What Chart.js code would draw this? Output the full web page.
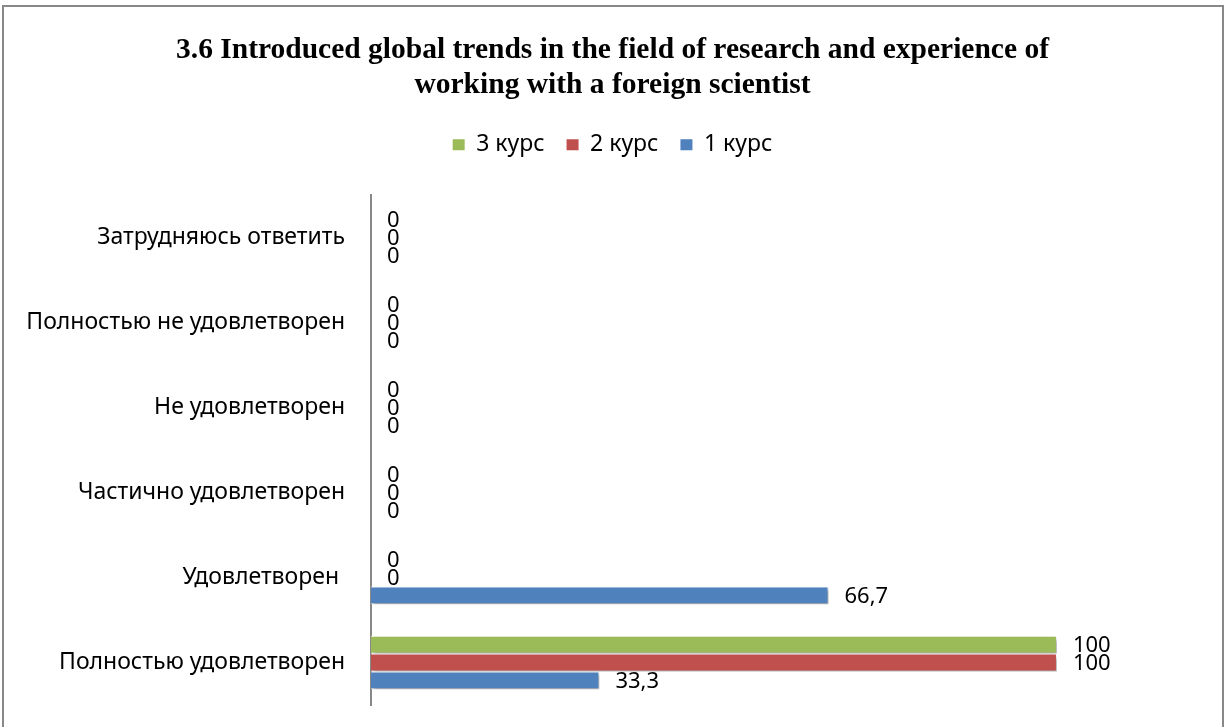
<!DOCTYPE html>
<html>
<head>
<meta charset="utf-8">
<script src="https://cdn.jsdelivr.net/npm/chart.js@4.4.1/dist/chart.umd.min.js"></script>
<style>
  html, body { margin: 0; padding: 0; background: #fff; }
  #wrap { width: 1225px; height: 727px; position: relative; }
</style>
</head>
<body>
<div id="wrap"><canvas id="chart"></canvas></div>
<script>
// ===== DATA =====
const categories = [
  'Затрудняюсь ответить',
  'Полностью не удовлетворен',
  'Не удовлетворен',
  'Частично удовлетворен',
  'Удовлетворен ',
  'Полностью удовлетворен'
];
const kurs3 = [0, 0, 0, 0, 0, 100];
const kurs2 = [0, 0, 0, 0, 0, 100];
const kurs1 = [0, 0, 0, 0, 66.7, 33.3];
const seriesNames = ['3 курс', '2 курс', '1 курс'];
const titleLines = [
  '3.6 Introduced global trends in the field of research and experience of',
  'working with a foreign scientist'
];

const LABEL_FONT = '"Noto Sans", "Open Sans", sans-serif';

// frame + white background
const framePlugin = {
  id: 'frame',
  beforeDraw(chart) {
    const ctx = chart.ctx;
    ctx.save();
    ctx.fillStyle = '#fff';
    ctx.fillRect(0, 0, chart.width, chart.height);
    ctx.strokeStyle = '#888';
    ctx.lineWidth = 2;
    ctx.strokeRect(3, 6, 1220, 730);
    ctx.restore();
  }
};

// extra gap under the legend
const legendGap = {
  id: 'legendGap',
  beforeLayout(chart) {
    const lg = chart.legend;
    if (lg && !lg._gapPatched) {
      const fit = lg.fit;
      lg.fit = function () {
        fit.call(this);
        this.height += 29;
      };
      lg._gapPatched = true;
    }
  }
};

// bar shadow + value labels
const barLabels = {
  id: 'barLabels',
  beforeDatasetsDraw(chart) {
    const ctx = chart.ctx;
    ctx.save();
    ctx.shadowColor = 'rgba(0,0,0,0.35)';
    ctx.shadowBlur = 4;
    ctx.shadowOffsetX = 2;
    ctx.shadowOffsetY = 3;
  },
  afterDatasetsDraw(chart) {
    const ctx = chart.ctx;
    ctx.restore();
    ctx.save();
    ctx.fillStyle = '#000';
    ctx.font = '22px ' + LABEL_FONT;
    ctx.textAlign = 'left';
    ctx.textBaseline = 'middle';
    chart.data.datasets.forEach(function (ds, i) {
      const meta = chart.getDatasetMeta(i);
      meta.data.forEach(function (bar, j) {
        const txt = String(ds.data[j]).replace('.', ',');
        ctx.fillText(txt, bar.x + 16, bar.y + 1);
      });
    });
    ctx.restore();
  }
};

new Chart(document.getElementById('chart'), {
  type: 'bar',
  data: {
    labels: categories,
    datasets: [
      { label: seriesNames[0], data: kurs3, backgroundColor: '#9BBB59' },
      { label: seriesNames[1], data: kurs2, backgroundColor: '#C0504D' },
      { label: seriesNames[2], data: kurs1, backgroundColor: '#4F81BD' }
    ]
  },
  options: {
    indexAxis: 'y',
    responsive: true,
    maintainAspectRatio: false,
    animation: false,
    layout: { padding: { left: 0, right: 0, top: 0, bottom: 22 } },
    datasets: {
      bar: {
        categoryPercentage: 0.63,
        barPercentage: 1,
        borderColor: '#fff',
        borderWidth: 1
      }
    },
    plugins: {
      title: {
        display: true,
        text: titleLines,
        color: '#000',
        font: { family: '"Liberation Serif", "Times New Roman", serif', size: 29.5, weight: 'bold', lineHeight: 1.19 },
        padding: { top: 33, bottom: 8 }
      },
      legend: {
        display: true,
        position: 'top',
        labels: {
          color: '#000',
          font: { family: LABEL_FONT, size: 23 },
          boxWidth: 12,
          boxHeight: 11,
          padding: 22,
          generateLabels(chart) {
            const items = Chart.defaults.plugins.legend.labels.generateLabels(chart);
            items.forEach(function (it) {
              it.strokeStyle = it.fillStyle;
              it.lineWidth = 0;
            });
            return items;
          }
        }
      },
      tooltip: { enabled: false }
    },
    scales: {
      x: {
        display: false,
        min: 0,
        max: 124.5
      },
      y: {
        grid: { display: false, drawTicks: false },
        border: { display: true, color: '#888', width: 2 },
        ticks: {
          color: '#000',
          font: { family: LABEL_FONT, size: 23 },
          padding: 26
        },
        afterFit(scale) {
          scale.width = 371;
          scale.paddingTop = 0;
          scale.paddingBottom = 0;
        }
      }
    }
  },
  plugins: [framePlugin, legendGap, barLabels]
});
</script>
</body>
</html>
